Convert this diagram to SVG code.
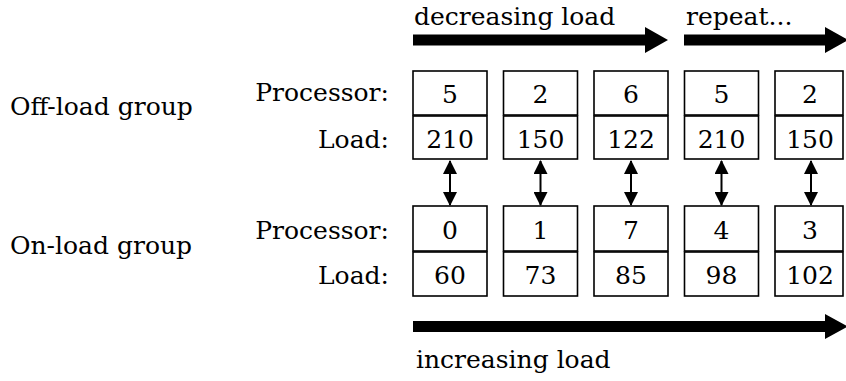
<svg xmlns="http://www.w3.org/2000/svg" width="846" height="381" viewBox="0 0 846 381">
<style>
text{font-family:'DejaVu Serif',serif;font-size:25px;fill:#000}
.c{text-anchor:middle}
.r{text-anchor:end}
.box{fill:#fff;stroke:#000;stroke-width:1.6}
.dl{stroke:#000;stroke-width:2;fill:none}
</style>
<defs>
<marker id="ah" viewBox="0 0 14 14" refX="13" refY="7" markerWidth="14" markerHeight="14" markerUnits="userSpaceOnUse" orient="auto-start-reverse">
<path d="M0,0 L14,7 L0,14 Z" fill="#000"/>
</marker>
</defs>
<rect width="846" height="381" fill="#fff"/>
<g id="labels">
<text x="10" y="115">Off-load group</text>
<text x="10" y="254">On-load group</text>
<text class="r" x="389" y="101">Processor:</text>
<text class="r" x="389" y="148">Load:</text>
<text class="r" x="389" y="239">Processor:</text>
<text class="r" x="389" y="284">Load:</text>
<text x="414" y="25">decreasing load</text>
<text x="686" y="25">repeat...</text>
<text x="416" y="368">increasing load</text>
</g>
<g id="off1"><rect class="box" x="413" y="71" width="74" height="44"/><rect class="box" x="413" y="116" width="74" height="43"/><text class="c" x="450" y="103">5</text><text class="c" x="450" y="148">210</text></g>
<g id="off2"><rect class="box" x="503.5" y="71" width="74" height="44"/><rect class="box" x="503.5" y="116" width="74" height="43"/><text class="c" x="540.5" y="103">2</text><text class="c" x="540.5" y="148">150</text></g>
<g id="off3"><rect class="box" x="594" y="71" width="74" height="44"/><rect class="box" x="594" y="116" width="74" height="43"/><text class="c" x="631" y="103">6</text><text class="c" x="631" y="148">122</text></g>
<g id="off4"><rect class="box" x="684.5" y="71" width="74" height="44"/><rect class="box" x="684.5" y="116" width="74" height="43"/><text class="c" x="721.5" y="103">5</text><text class="c" x="721.5" y="148">210</text></g>
<g id="off5"><rect class="box" x="775" y="71" width="68" height="44"/><rect class="box" x="775" y="116" width="68" height="43"/><text class="c" x="810" y="103">2</text><text class="c" x="810" y="148">150</text></g>
<g id="on1"><rect class="box" x="413" y="206" width="74" height="45"/><rect class="box" x="413" y="252" width="74" height="44"/><text class="c" x="450" y="239">0</text><text class="c" x="450" y="284">60</text></g>
<g id="on2"><rect class="box" x="503.5" y="206" width="74" height="45"/><rect class="box" x="503.5" y="252" width="74" height="44"/><text class="c" x="540.5" y="239">1</text><text class="c" x="540.5" y="284">73</text></g>
<g id="on3"><rect class="box" x="594" y="206" width="74" height="45"/><rect class="box" x="594" y="252" width="74" height="44"/><text class="c" x="631" y="239">7</text><text class="c" x="631" y="284">85</text></g>
<g id="on4"><rect class="box" x="684.5" y="206" width="74" height="45"/><rect class="box" x="684.5" y="252" width="74" height="44"/><text class="c" x="721.5" y="239">4</text><text class="c" x="721.5" y="284">98</text></g>
<g id="on5"><rect class="box" x="775" y="206" width="68" height="45"/><rect class="box" x="775" y="252" width="68" height="44"/><text class="c" x="810" y="239">3</text><text class="c" x="810" y="284">102</text></g>
<g id="connectors">
<line class="dl" x1="450" y1="161" x2="450" y2="205" marker-start="url(#ah)" marker-end="url(#ah)"/>
<line class="dl" x1="540.5" y1="161" x2="540.5" y2="205" marker-start="url(#ah)" marker-end="url(#ah)"/>
<line class="dl" x1="631" y1="161" x2="631" y2="205" marker-start="url(#ah)" marker-end="url(#ah)"/>
<line class="dl" x1="721.5" y1="161" x2="721.5" y2="205" marker-start="url(#ah)" marker-end="url(#ah)"/>
<line class="dl" x1="811" y1="161" x2="811" y2="205" marker-start="url(#ah)" marker-end="url(#ah)"/>
<path d="M413,34.5 H645 V27 L668,40 L645,53 V45.5 H413 Z" fill="#000"/>
<path d="M684,34.5 H825 V27 L848,40 L825,53 V45.5 H684 Z" fill="#000"/>
<path d="M413,321 H825 V314 L848,326.5 L825,339 V332 H413 Z" fill="#000"/>
</g>
</svg>
